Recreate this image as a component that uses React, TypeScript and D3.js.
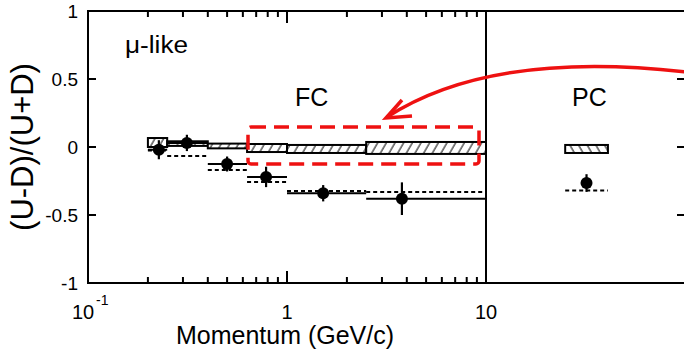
import React from "react";
import * as d3 from "d3";

// ---- data ----
const binEdges = [0.2, 0.25, 0.4, 0.63, 1.0, 2.5, 10];
const dataMomentum = [0.227, 0.314, 0.5, 0.785, 1.52, 3.78];
const dataAsym = [-0.02, 0.03, -0.125, -0.22, -0.34, -0.38];
const dataErr = [0.07, 0.06, 0.055, 0.075, 0.06, 0.12];
const mcHigh = [0.066, 0.042, 0.025, 0.022, 0.015, 0.037];
const mcLow = [0, 0.008, -0.01, -0.037, -0.044, -0.051];
const oscAsym = [-0.025, -0.066, -0.17, -0.257, -0.324, -0.33];

const pcRange = [25, 41];
const pcMomentum = 32;
const pcAsym = -0.265;
const pcErr = 0.065;
const pcHigh = 0.015;
const pcLow = -0.044;
const pcOsc = -0.32;

const yTicks = [1, 0.5, 0, -0.5, -1];
const yTickLabels = ["1", "0.5", "0", "-0.5", "-1"];
const xMinorTicks = [0.2, 0.3, 0.4, 0.5, 0.6, 0.7, 0.8, 0.9, 2, 3, 4, 5, 6, 7, 8, 9];
const xMajorTicks = [1];

const W = 684;
const H = 350;
const FONT = "'Liberation Sans', Arial, Helvetica, sans-serif";
const RED = "#ee1111";

export default function App() {
  const x = d3.scaleLog().domain([0.1, 100]).range([88, 685]);
  const y = d3.scaleLinear().domain([-1, 1]).range([283, 11]);
  const left = x(0.1);
  const right = x(100);
  const top = y(1);
  const bottom = y(-1);
  const divider = x(10);

  const arrowPath = d3.path();
  arrowPath.moveTo(686, 72);
  arrowPath.bezierCurveTo(590, 61, 472, 62, 387, 117);

  return (
    <svg
      width={W}
      height={H}
      style={{ position: "absolute", left: 0, top: 0, background: "#fff" }}
      fontFamily={FONT}
    >
      <defs>
        <pattern id="hatchF" patternUnits="userSpaceOnUse" width={7.5} height={10} patternTransform="rotate(30)">
          <rect width={7.5} height={10} fill="#fff" />
          <line x1={1} y1={0} x2={1} y2={10} stroke="#000" strokeWidth={1} />
        </pattern>
        <pattern id="hatchB" patternUnits="userSpaceOnUse" width={7.5} height={10} patternTransform="rotate(-30)">
          <rect width={7.5} height={10} fill="#fff" />
          <line x1={1} y1={0} x2={1} y2={10} stroke="#000" strokeWidth={1} />
        </pattern>
      </defs>
      <rect width={W} height={H} fill="#fff" />

      {/* MC boxes */}
      {mcHigh.map((h, i) => (
        <rect
          key={"box" + i}
          x={x(binEdges[i])}
          y={y(h)}
          width={x(binEdges[i + 1]) - x(binEdges[i])}
          height={y(mcLow[i]) - y(h)}
          fill="url(#hatchF)"
          stroke="#000"
          strokeWidth={2}
        />
      ))}
      <rect
        x={x(pcRange[0])}
        y={y(pcHigh)}
        width={x(pcRange[1]) - x(pcRange[0])}
        height={y(pcLow) - y(pcHigh)}
        fill="url(#hatchB)"
        stroke="#000"
        strokeWidth={2}
      />

      {/* oscillation expectation (dashed) */}
      {oscAsym.map((v, i) => (
        <line
          key={"osc" + i}
          x1={x(binEdges[i])}
          x2={x(binEdges[i + 1])}
          y1={y(v)}
          y2={y(v)}
          stroke="#000"
          strokeWidth={2}
          strokeDasharray="4 3"
        />
      ))}
      <line x1={x(pcRange[0])} x2={x(pcRange[1])} y1={y(pcOsc)} y2={y(pcOsc)} stroke="#000" strokeWidth={2} strokeDasharray="4 3" />

      {/* data points */}
      {dataAsym.map((v, i) => (
        <g key={"pt" + i}>
          <line x1={x(binEdges[i])} x2={x(binEdges[i + 1])} y1={y(v)} y2={y(v)} stroke="#000" strokeWidth={2} />
          <line x1={x(dataMomentum[i])} x2={x(dataMomentum[i])} y1={y(v + dataErr[i])} y2={y(v - dataErr[i])} stroke="#000" strokeWidth={2.2} />
          <circle cx={x(dataMomentum[i])} cy={y(v)} r={6} fill="#000" />
        </g>
      ))}
      <line x1={x(pcMomentum)} x2={x(pcMomentum)} y1={y(pcAsym + pcErr)} y2={y(pcAsym - pcErr)} stroke="#000" strokeWidth={2.2} />
      <circle cx={x(pcMomentum)} cy={y(pcAsym)} r={6} fill="#000" />

      {/* frame */}
      <rect x={left} y={top} width={right - left} height={bottom - top} fill="none" stroke="#000" strokeWidth={2} />
      <line x1={divider} x2={divider} y1={top} y2={bottom} stroke="#000" strokeWidth={2} />

      {/* y ticks */}
      {yTicks.slice(1, 4).map((t) => (
        <g key={"yt" + t}>
          <line x1={left} x2={left + 8} y1={y(t)} y2={y(t)} stroke="#000" strokeWidth={2} />
          <line x1={right} x2={right - 8} y1={y(t)} y2={y(t)} stroke="#000" strokeWidth={2} />
        </g>
      ))}
      {yTicks.map((t, i) => (
        <text key={"yl" + t} x={78} y={y(t)} dy="0.36em" textAnchor="end" fontSize={19}>
          {yTickLabels[i]}
        </text>
      ))}

      {/* x ticks */}
      {xMinorTicks.map((t) => (
        <g key={"xt" + t}>
          <line x1={x(t)} x2={x(t)} y1={bottom} y2={bottom - 6} stroke="#000" strokeWidth={2} />
          <line x1={x(t)} x2={x(t)} y1={top} y2={top + 6} stroke="#000" strokeWidth={2} />
        </g>
      ))}
      {xMajorTicks.map((t) => (
        <g key={"xM" + t}>
          <line x1={x(t)} x2={x(t)} y1={bottom} y2={bottom - 12} stroke="#000" strokeWidth={2} />
          <line x1={x(t)} x2={x(t)} y1={top} y2={top + 12} stroke="#000" strokeWidth={2} />
        </g>
      ))}
      <text x={x(0.1) - 16} y={319} fontSize={20}>10</text>
      <text x={x(0.1) + 8} y={305} fontSize={14}>-1</text>
      <text x={x(1)} y={319} textAnchor="middle" fontSize={20}>1</text>
      <text x={x(10)} y={319} textAnchor="middle" fontSize={20}>10</text>

      {/* axis titles */}
      <text x={(left + divider) / 2 - 2} y={344} textAnchor="middle" fontSize={25}>
        Momentum (GeV/c)
      </text>
      <text transform={`translate(33,${y(0)}) rotate(-90)`} textAnchor="middle" fontSize={31}>
        (U-D)/(U+D)
      </text>

      {/* panel labels */}
      <text x={125} y={53} fontSize={23} textLength={63} lengthAdjust="spacingAndGlyphs">μ-like</text>
      <text x={295} y={106} fontSize={25}>FC</text>
      <text x={572} y={106} fontSize={25}>PC</text>

      {/* red annotation */}
      <rect x={248} y={127} width={231} height={37} rx={3} fill="none" stroke={RED} strokeWidth={3.5} strokeDasharray="15 8" />
      <path d={arrowPath.toString()} fill="none" stroke={RED} strokeWidth={3.5} />
      <path d="M402,100 L386,118 L412,116" fill="none" stroke={RED} strokeWidth={3.5} strokeLinejoin="miter" />
    </svg>
  );
}
